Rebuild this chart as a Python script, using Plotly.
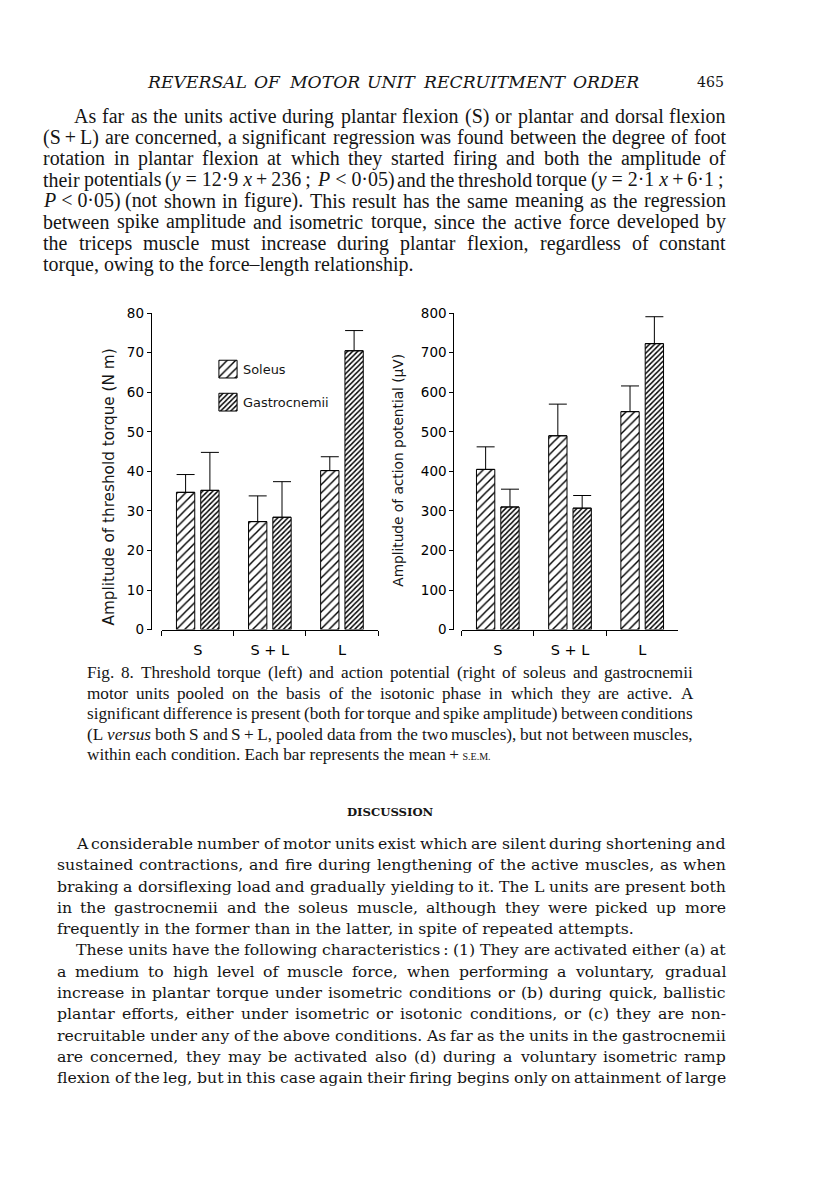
import os
import re
import struct
import plotly.graph_objects as go

W, H = 816, 1198

# ---------------- chart data ----------------
categories = ["S", "S + L", "L"]
series_names = ["Soleus", "Gastrocnemii"]

torque_soleus = [34.7, 27.3, 40.2]
torque_soleus_sem = [4.5, 6.5, 3.5]
torque_gastro = [35.2, 28.4, 70.5]
torque_gastro_sem = [9.6, 9.0, 5.1]

ap_soleus = [405, 490, 551]
ap_soleus_sem = [57, 80, 65]
ap_gastro = [310, 307, 723]
ap_gastro_sem = [45, 32, 68]

torque_ticks = [0, 10, 20, 30, 40, 50, 60, 70, 80]
ap_ticks = [0, 100, 200, 300, 400, 500, 600, 700, 800]

left_ytitle = "Amplitude of threshold torque (N m)"
right_ytitle = "Amplitude of action potential (\u03bcV)"

# ---------------- page text ----------------
header_text = "REVERSAL OF MOTOR UNIT RECRUITMENT ORDER"
page_number = "465"

top_lines = [
    "As far as the units active during plantar flexion (S) or plantar and dorsal flexion",
    "(S\u2009+\u2009L) are concerned, a significant regression was found between the degree of foot",
    "rotation in plantar flexion at which they started firing and both the amplitude of",
    "their potentials (<i>y</i>\u00a0=\u00a012\u00b79\u00a0<i>x</i>\u2009+\u2009236\u2009; <i>P</i>\u00a0&lt;\u00a00\u00b705) and the threshold torque (<i>y</i>\u00a0=\u00a02\u00b71\u00a0<i>x</i>\u2009+\u20096\u00b71\u2009;",
    "<i>P</i>\u00a0&lt;\u00a00\u00b705) (not shown in figure). This result has the same meaning as the regression",
    "between spike amplitude and isometric torque, since the active force developed by",
    "the triceps muscle must increase during plantar flexion, regardless of constant",
    "torque, owing to the force\u2013length relationship.",
]
top_just = [True] * 7 + [False]

caption_lines = [
    "Fig. 8. Threshold torque (left) and action potential (right of soleus and gastrocnemii",
    "motor units pooled on the basis of the isotonic phase in which they are active. A",
    "significant difference is present (both for torque and spike amplitude) between conditions",
    "(L <i>versus</i> both S and S\u2009+\u2009L, pooled data from the two muscles), but not between muscles,",
    "within each condition. Each bar represents the mean\u2009+\u2009<span style=\"font-size:10px\">S.E.M.</span>",
]
caption_just = [True] * 4 + [False]

discussion_title = "DISCUSSION"
discussion_lines = [
    "A considerable number of motor units exist which are silent during shortening and",
    "sustained contractions, and fire during lengthening of the active muscles, as when",
    "braking a dorsiflexing load and gradually yielding to it. The L units are present both",
    "in the gastrocnemii and the soleus muscle, although they were picked up more",
    "frequently in the former than in the latter, in spite of repeated attempts.",
    "These units have the following characteristics\u2009: (1) They are activated either (a) at",
    "a medium to high level of muscle force, when performing a voluntary, gradual",
    "increase in plantar torque under isometric conditions or (b) during quick, ballistic",
    "plantar efforts, either under isometric or isotonic conditions, or (c) they are non-",
    "recruitable under any of the above conditions. As far as the units in the gastrocnemii",
    "are concerned, they may be activated also (d) during a voluntary isometric ramp",
    "flexion of the leg, but in this case again their firing begins only on attainment of large",
]
discussion_just = [True] * 4 + [False] + [True] * 7
discussion_indent = [1, 0, 0, 0, 0, 1, 0, 0, 0, 0, 0, 0]

# ---------------- font metrics (for justified text) ----------------
FONT_FILES = {}
for root in ["/usr/share/fonts", "/usr/local/share/fonts",
             os.path.expanduser("~/.fonts"), os.path.expanduser("~/.local/share/fonts")]:
    if os.path.isdir(root):
        for dp, dn, fn in os.walk(root):
            for f in fn:
                if f.lower().endswith((".ttf", ".otf")):
                    FONT_FILES.setdefault(f, os.path.join(dp, f))


class Metrics:
    def __init__(self, *names):
        self.ok = False
        path = None
        for n in names:
            if n in FONT_FILES:
                path = FONT_FILES[n]
                break
        if path is None:
            return
        try:
            d = open(path, "rb").read()
            nt = struct.unpack(">H", d[4:6])[0]
            tb = {}
            for i in range(nt):
                tag, cs, off, ln = struct.unpack(">4sIII", d[12 + 16 * i:28 + 16 * i])
                tb[tag.decode("latin1")] = off
            head = tb["head"]
            self.upm = struct.unpack(">H", d[head + 18:head + 20])[0]
            hhea = tb["hhea"]
            nhm = struct.unpack(">H", d[hhea + 34:hhea + 36])[0]
            hm = tb["hmtx"]
            self.adv = [struct.unpack(">H", d[hm + 4 * i:hm + 4 * i + 2])[0] for i in range(nhm)]
            cm = tb["cmap"]
            n = struct.unpack(">H", d[cm + 2:cm + 4])[0]
            sub = None
            for i in range(n):
                pid, eid, off = struct.unpack(">HHI", d[cm + 4 + 8 * i:cm + 12 + 8 * i])
                fmt = struct.unpack(">H", d[cm + off:cm + off + 2])[0]
                if fmt == 4 and (pid == 0 or (pid == 3 and eid == 1)):
                    sub = cm + off
                    break
            segx2 = struct.unpack(">H", d[sub + 6:sub + 8])[0]
            seg = segx2 // 2
            self.ends = struct.unpack(">%dH" % seg, d[sub + 14:sub + 14 + segx2])
            self.starts = struct.unpack(">%dH" % seg, d[sub + 16 + segx2:sub + 16 + 2 * segx2])
            self.deltas = struct.unpack(">%dh" % seg, d[sub + 16 + 2 * segx2:sub + 16 + 3 * segx2])
            self.rpos = sub + 16 + 3 * segx2
            self.roffs = struct.unpack(">%dH" % seg, d[self.rpos:self.rpos + segx2])
            self.d = d
            self.seg = seg
            self.cache = {}
            self.ok = True
        except Exception:
            self.ok = False

    def gid(self, c):
        for i in range(self.seg):
            if self.ends[i] >= c:
                if self.starts[i] > c:
                    return 0
                if self.roffs[i] == 0:
                    return (c + self.deltas[i]) & 0xFFFF
                p = self.rpos + 2 * i + self.roffs[i] + 2 * (c - self.starts[i])
                g = struct.unpack(">H", self.d[p:p + 2])[0]
                return (g + self.deltas[i]) & 0xFFFF if g else 0
        return 0

    def char(self, ch):
        if ch in self.cache:
            return self.cache[ch]
        g = self.gid(ord(ch))
        if g == 0:
            w = 0.2 if ch == "\u2009" else 0.5
        else:
            w = self.adv[min(g, len(self.adv) - 1)] / self.upm
        self.cache[ch] = w
        return w

    def width(self, s):
        if not self.ok:
            return sum(0.25 if c in " \u2009\u00a0" else 0.5 for c in s)
        return sum(self.char(c) for c in s)


def plain(s):
    s = re.sub(r"<[^>]+>", "", s)
    return s.replace("&lt;", "<").replace("&gt;", ">").replace("&amp;", "&")


M_LSERIF = Metrics("LiberationSerif-Regular.ttf")
M_DSERIF = Metrics("DejaVuSerif.ttf")
M_DSERIF_B = Metrics("DejaVuSerif-Bold.ttf", "DejaVuSerif.ttf")
M_DSERIF_I = Metrics("DejaVuSerif-Italic.ttf", "DejaVuSerif.ttf")
M_DSANS = Metrics("DejaVuSans.ttf")

INK = "#151515"
annotations = []


def px(x):
    return x / W


def py(y):
    return 1 - y / H


def add_text(text, x, y, family, size, xanchor="left", style="normal", angle=0,
             yanchor="middle", weight="normal"):
    annotations.append(dict(
        text=text, x=px(x), y=py(y), xref="paper", yref="paper",
        xanchor=xanchor, yanchor=yanchor, showarrow=False, borderpad=0,
        textangle=angle,
        font=dict(family=family, size=size, color=INK, style=style, weight=weight),
    ))


def fit_size(metrics, lines, just, left, right, indents):
    best = None
    for line, j, ind in zip(lines, just, indents):
        if not j:
            continue
        toks = line.split(" ")
        nat = sum(metrics.width(plain(t)) for t in toks) + (len(toks) - 1) * 0.8 * metrics.width(" ")
        s = (right - left - ind) / nat
        best = s if best is None else min(best, s)
    return best


def add_justified(line, y, x0, right, metrics, family, size, style="normal"):
    toks = line.split(" ")
    ws = [metrics.width(plain(t)) * size for t in toks]
    gap = (right - x0 - sum(ws)) / (len(toks) - 1)
    x = x0
    for t, w in zip(toks, ws):
        add_text(t, x, y, family, size, style=style)
        x += w + gap


def add_paragraph(lines, just, ys, indents, left, right, metrics, family, size):
    for line, j, y, ind in zip(lines, just, ys, indents):
        x0 = left + ind
        if not j:
            add_text(line, x0, y, family, size)
        else:
            add_justified(line, y, x0, right, metrics, family, size)


# header (words spread over the measured width)
add_justified(header_text, 75.5, 146, 638, M_DSERIF_I, "DejaVu Serif", 17.2, style="italic")
ns = 27 / M_DSERIF.width(page_number)
add_text(page_number, 725, 75.5, "DejaVu Serif", ns, xanchor="right")

# top paragraph
top_ind = [31] + [0] * 7
top_ys = [109.5 + 21.45 * i for i in range(len(top_lines))]
ts = fit_size(M_LSERIF, top_lines, top_just, 42, 725, top_ind)
add_paragraph(top_lines, top_just, top_ys, top_ind, 42, 725, M_LSERIF, "Liberation Serif", ts)

# caption
cap_ys = [673, 694.5, 715.5, 736, 757]
cap_ind = [0] * 5
cs = fit_size(M_LSERIF, caption_lines, caption_just, 86, 692, cap_ind)
add_paragraph(caption_lines, caption_just, cap_ys, cap_ind, 86, 692, M_LSERIF, "Liberation Serif", cs)

# discussion
dts = 86.6 / M_DSERIF_B.width(discussion_title)
add_text(discussion_title, 390, 815, "DejaVu Serif", dts, xanchor="center", weight="bold")
dis_ys = [847 + 21.55 * i for i in range(len(discussion_lines))]
dis_ind = [19 * k for k in discussion_indent]
ds = fit_size(M_DSERIF, discussion_lines, discussion_just, 56, 725, dis_ind)
add_paragraph(discussion_lines, discussion_just, dis_ys, dis_ind, 56, 725, M_DSERIF, "DejaVu Serif", ds)

# ---------------- chart ----------------
SANS = "DejaVu Sans"
BW = 0.254
OFF_SOL = -0.2955
OFF_GAS = 0.0415
SOL_PATTERN = dict(shape="/", size=6, solidity=0.24, fgcolor="black", bgcolor="white", fillmode="replace")
GAS_PATTERN = dict(shape="/", size=3.6, solidity=0.4, fgcolor="black", bgcolor="white", fillmode="replace")


def make_bar(vals, sem, pattern, offset, xa, ya, name):
    return go.Bar(
        x=categories, y=vals, name=name, xaxis=xa, yaxis=ya,
        width=BW, offset=offset, showlegend=False,
        marker=dict(color="white", line=dict(color="black", width=1), pattern=pattern),
        error_y=dict(type="data", array=sem, arrayminus=[0] * len(sem), symmetric=False,
                     color="black", thickness=1, width=9),
    )


fig = go.Figure()
fig.add_trace(make_bar(torque_soleus, torque_soleus_sem, SOL_PATTERN, OFF_SOL, "x", "y", series_names[0]))
fig.add_trace(make_bar(torque_gastro, torque_gastro_sem, GAS_PATTERN, OFF_GAS, "x", "y", series_names[1]))
fig.add_trace(make_bar(ap_soleus, ap_soleus_sem, SOL_PATTERN, OFF_SOL, "x2", "y2", series_names[0]))
fig.add_trace(make_bar(ap_gastro, ap_gastro_sem, GAS_PATTERN, OFF_GAS, "x2", "y2", series_names[1]))

# legend swatches drawn as tiny bars
for nm, pat in zip(series_names, [SOL_PATTERN, GAS_PATTERN]):
    fig.add_trace(go.Bar(
        y=[nm], x=[1], orientation="h", xaxis="x3", yaxis="y3", width=0.537, offset=-0.2685,
        showlegend=False, hoverinfo="skip",
        marker=dict(color="white", line=dict(color="black", width=1), pattern=pat),
    ))

Y0, Y1 = 630, 309.3
ydom = [py(Y0), py(Y1)]
tickfont_y = dict(family=SANS, size=13.5, color="black")
tickfont_x = dict(family=SANS, size=14.5, color="black")

xcommon = dict(type="category", categoryorder="array", categoryarray=categories,
               range=[-0.5, 2.5], showline=True, linecolor="black", linewidth=1,
               ticks="outside", tickson="boundaries", ticklen=5, tickwidth=1, tickcolor="black",
               showgrid=False, zeroline=False, tickfont=tickfont_x, fixedrange=True,
               ticklabelstandoff=7)
ycommon = dict(showline=True, linecolor="black", linewidth=1, ticks="outside", ticklen=4,
               tickwidth=1, tickcolor="black", showgrid=False, zeroline=False,
               tickfont=tickfont_y, domain=ydom, anchor="free", fixedrange=True)

fig.update_layout(
    width=W, height=H, autosize=False,
    margin=dict(l=0, r=0, t=0, b=0),
    paper_bgcolor="white", plot_bgcolor="rgba(0,0,0,0)",
    barmode="overlay",
    xaxis=dict(xcommon, domain=[px(161.7), px(378)], anchor="y"),
    yaxis=dict(ycommon, range=[0, 80], tickvals=torque_ticks, position=px(150.7)),
    xaxis2=dict(xcommon, domain=[px(461.7), px(678.3)], anchor="y2"),
    yaxis2=dict(ycommon, range=[0, 800], tickvals=ap_ticks, position=px(453.3)),
    xaxis3=dict(domain=[px(218), px(238)], range=[-0.05, 1.05], visible=False, anchor="y3", fixedrange=True),
    yaxis3=dict(domain=[py(416.25), py(349.25)], type="category", categoryorder="array",
                categoryarray=[series_names[1], series_names[0]], range=[-0.5, 1.5],
                visible=False, anchor="x3", fixedrange=True),
    showlegend=False,
)

# axis titles and legend labels
lt = 278 / M_DSANS.width(left_ytitle)
add_text(left_ytitle, 109, 486, SANS, lt, xanchor="center", angle=-90)
rt = 233 / M_DSANS.width(right_ytitle)
add_text(right_ytitle, 398, 469, SANS, rt, xanchor="center", angle=-90)
lg = 0.5 * (91.6 / M_DSANS.width(series_names[1]) + 36.6 / M_DSANS.width(series_names[0]))
add_text(series_names[0], 241.5, 366, SANS, lg + 0.5)
add_text(series_names[1], 241.5, 399.5, SANS, lg + 0.5)

fig.update_layout(annotations=annotations)

fig.write_html(
    "out.html",
    config={"displayModeBar": False, "staticPlot": True},
    post_script="document.body.style.margin='0';document.body.style.overflow='hidden';",
)
